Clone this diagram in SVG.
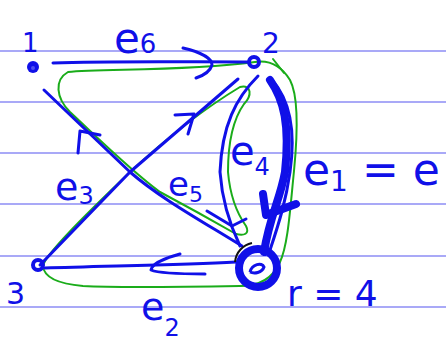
<svg xmlns="http://www.w3.org/2000/svg" width="446" height="342" viewBox="0 0 446 342">
<style>
.rule{stroke:#8c8cf5;stroke-width:1.6}
.ink{fill:none;stroke:#1010e8;stroke-width:3;stroke-linecap:round;stroke-linejoin:round}
.thick{fill:none;stroke:#1010e8;stroke-width:8;stroke-linecap:round;stroke-linejoin:round}
.green{fill:none;stroke:#1aac1a;stroke-width:2;stroke-linecap:round;stroke-linejoin:round}
.lbl{fill:#1010e8;font-family:"DejaVu Sans","Liberation Sans",sans-serif}
</style>
<rect width="446" height="342" fill="#ffffff"/>
<g id="rules">
<line class="rule" x1="0" y1="51" x2="446" y2="51"/>
<line class="rule" x1="0" y1="102" x2="446" y2="102"/>
<line class="rule" x1="0" y1="153" x2="446" y2="153"/>
<line class="rule" x1="0" y1="204" x2="446" y2="204"/>
<line class="rule" x1="0" y1="256" x2="446" y2="256"/>
<line class="rule" x1="0" y1="307" x2="446" y2="307"/>
</g>
<g id="green-loop">
<path class="green" d="M240,87 C252,84 252,96 244,104 C234,118 228,140 228,172 C230,195 236,212 246,226 C250,234 244,236 236,234 C215,222 190,208 160,192 C130,170 100,140 70,112 C56,98 54,80 68,72 C100,68 180,72 255,62 C268,60 280,64 290,80 C298,95 298,130 294,171 C290,210 288,245 280,262 C274,276 262,286 240,286 C180,287 120,288 83,286 C60,284 44,278 43,266 C45,255 80,220 130,172 C170,135 210,105 240,87 Z"/>
<path class="green" d="M273,59 L284,73"/>
</g>
<g id="connectors">
<g id="e6">
<path class="ink" d="M53,63 C110,61 180,62 248,62"/>
<path class="ink" d="M183,48 C200,52 212,58 212,65 C210,72 202,76 196,78"/>
</g>
<g id="e3">
<path class="ink" d="M40,265 L130,172 L238,79"/>
<path class="ink" d="M175,115 L194,114 L188,134"/>
</g>
<g id="e5">
<path class="ink" d="M44,90 L130,172 C160,198 200,220 242,246"/>
<path class="ink" d="M78,153 L80,131 L100,135"/>
</g>
<g id="e4">
<path class="ink" d="M258,76 C236,98 222,125 220,172 C222,200 230,225 240,246"/>
<path class="ink" d="M207,211 L232,226 L246,219"/>
</g>
<g id="e1">
<path class="thick" d="M270,80 C284,100 290,125 285,172 C280,200 270,215 264,252"/>
<path class="ink" d="M272,80 C290,100 296,130 290,172 C286,200 280,220 270,250"/>
<path class="thick" d="M263,194 L266,215 L296,204"/>
</g>
<g id="e2">
<path class="ink" d="M236,262 C180,265 100,266 45,268"/>
<path class="ink" d="M180,254 C165,258 152,264 151,270 C160,274 185,274 205,274"/>
</g>
</g>
<g id="node-1">
<circle cx="33" cy="67" r="6" fill="#1010e8"/>
<circle cx="33" cy="68" r="2" fill="#5050f0"/>
<text class="lbl" x="22" y="52" font-size="26">1</text>
</g>
<g id="node-2">
<circle cx="254" cy="62" r="5" fill="none" stroke="#1010e8" stroke-width="4"/>
<text class="lbl" x="262" y="53" font-size="28">2</text>
</g>
<g id="node-3">
<circle cx="38" cy="265" r="5" fill="none" stroke="#1010e8" stroke-width="4"/>
<text class="lbl" x="6" y="304" font-size="30">3</text>
</g>
<g id="node-4">
<circle cx="258" cy="268" r="19" fill="none" stroke="#1010e8" stroke-width="8"/>
<path d="M235,262 C236,252 243,245 252,243" fill="none" stroke="#111111" stroke-width="2"/>
<path d="M250,272 C252,264 262,262 264,267 C262,273 254,274 250,272" fill="none" stroke="#1010e8" stroke-width="3"/>
<text class="lbl" x="287" y="306" font-size="36">r = 4</text>
</g>
<g id="labels">
<text class="lbl" x="114" y="53" font-size="42">e<tspan font-size="26">6</tspan></text>
<text class="lbl" x="230" y="165" font-size="40">e<tspan font-size="24" dy="10">4</tspan></text>
<text class="lbl" x="303" y="185" font-size="44">e<tspan font-size="28" dy="6">1</tspan><tspan dy="-6"> = e</tspan></text>
<text class="lbl" x="55" y="200" font-size="38">e<tspan font-size="24" dy="4">3</tspan></text>
<text class="lbl" x="168" y="196" font-size="34">e<tspan font-size="22" dy="6">5</tspan></text>
<text class="lbl" x="141" y="320" font-size="38">e<tspan font-size="24" dy="16">2</tspan></text>
</g>
</svg>
